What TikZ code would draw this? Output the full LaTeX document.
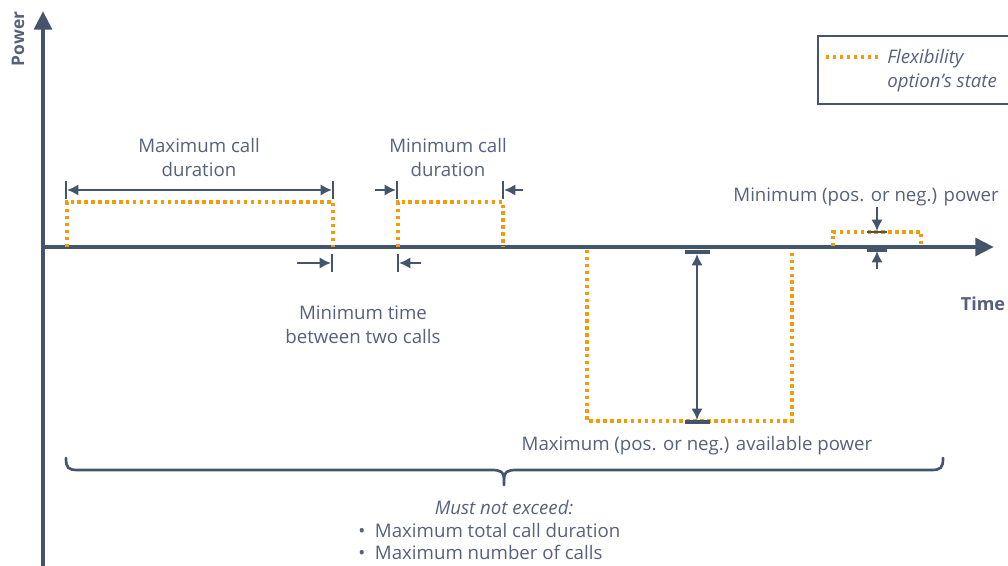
\documentclass[tikz,border=0pt]{standalone}
\usepackage{fontspec}
\setmainfont{Open Sans}
\usetikzlibrary{arrows.meta}
\definecolor{axis}{HTML}{44546A}
\definecolor{txt}{HTML}{56627A}
\definecolor{flex}{HTML}{F29C0D}
\tikzset{
  axisline/.style={draw=axis, line width=3.4pt},
  flexline/.style={draw=flex, line width=2.6pt, dash pattern=on 2.6pt off 2.6pt},
  dimline/.style={draw=axis, line width=2.1pt},
  barline/.style={draw=axis, line width=2.2pt},
  tip/.style={-{Latex[length=8.5pt,width=8.5pt]}},
  dtip/.style={{Latex[length=8.5pt,width=8.5pt]}-{Latex[length=8.5pt,width=8.5pt]}},
  lbl/.style={text=txt, font=\fontsize{14}{18}\selectfont, align=center, inner sep=0pt},
  ilbl/.style={lbl, font=\fontsize{14}{18}\selectfont\itshape},
}
\begin{document}
\begin{tikzpicture}[x=0.75pt,y=-0.75pt]
\useasboundingbox (0,0) rectangle (1008,566);
% axes
\coordinate (o) at (41,247);
\coordinate (ytop) at (43,11);
\coordinate (ybot) at (43,566);
\coordinate (xend) at (994,247);
\draw[axisline, -{Triangle[length=14pt,width=13pt]}] (ybot) -- (ytop);
\draw[axisline, -{Triangle[length=14pt,width=13pt]}] (o) -- (xend);
\node[lbl, font=\fontsize{13}{15}\selectfont\bfseries, rotate=90] (power) at (18,39) {Power};
\node[lbl, font=\fontsize{13.5}{15}\selectfont\bfseries] (time) at (983,304) {Time};
% legend
\node[draw=axis, line width=1.3pt, minimum width=196pt, minimum height=51pt, anchor=north west, inner sep=0pt] (legend) at (817,35) {};
\coordinate (lega) at (826,57);
\coordinate (legb) at (878,57);
\draw[flexline] (lega) -- (legb);
\node[ilbl, font=\fontsize{14}{18}\selectfont\itshape, align=left, anchor=north west] (legtxt) at (887,49) {Flexibility\\option's state};
% pulse 1
\draw[flexline] (67,247) -- (67,202) -- (333,202) -- (333,247);
\draw[barline] (66,181) -- (66,199);
\draw[barline] (333,181) -- (333,199);
\draw[dimline, dtip] (67,190) -- (332,190);
\node[lbl] (maxcall) at (199,158) {Maximum call\\duration};
% pulse 2
\draw[flexline] (398,247) -- (398,202) -- (503,202) -- (503,247);
\draw[barline] (397,181) -- (397,199);
\draw[barline] (503,181) -- (503,199);
\draw[dimline, tip] (375,190) -- (396,190);
\draw[dimline, tip] (523,190) -- (504,190);
\node[lbl] (mincall) at (448,158) {Minimum call\\duration};
% min time between calls
\draw[barline] (332,254) -- (332,272);
\draw[barline] (398,254) -- (398,272);
\draw[dimline, tip] (297,263) -- (331,263);
\draw[dimline, tip] (421,263) -- (399,263);
\node[lbl] (mintime) at (363,325) {Minimum time\\between two calls};
% negative pulse
\draw[flexline] (587,250) -- (587,421) -- (792,421) -- (792,250);
\draw[draw=axis, line width=3pt] (685,252) -- (710,252);
\draw[draw=axis, line width=3pt] (685,422) -- (710,422);
\draw[dimline, dtip] (697,254) -- (697,420);
\node[lbl] (maxpow) at (697,446) {Maximum (pos. or neg.) available power};
% small positive pulse
\draw[flexline] (833,246) -- (833,232) -- (921,232) -- (921,246);
\draw[barline] (867,232) -- (887,232);
\draw[dimline, tip] (877,207) -- (877,231);
\draw[draw=axis, line width=2.6pt] (867,250) -- (887,250);
\draw[dimline, tip] (877,269) -- (877,251);
\node[lbl] (minpow) at (866,197) {Minimum (pos. or neg.) power};
% brace
\draw[draw=axis, line width=2pt, line cap=round] (66,458) .. controls (66,468) and (68,470) .. (78,470) -- (492,470)
  .. controls (500,470) and (504,472) .. (504,478) -- (504,485);
\draw[draw=axis, line width=2pt, line cap=round] (943,458) .. controls (943,468) and (941,470) .. (931,470) -- (516,470)
  .. controls (508,470) and (504,472) .. (504,478);
\node[ilbl] (must) at (504,508) {Must not exceed:};
\node[lbl, font=\fontsize{14}{16.5}\selectfont, align=left, anchor=west] (bul) at (358,542) {\textbullet\ \ Maximum total call duration\\\textbullet\ \ Maximum number of calls};
\end{tikzpicture}
\end{document}
